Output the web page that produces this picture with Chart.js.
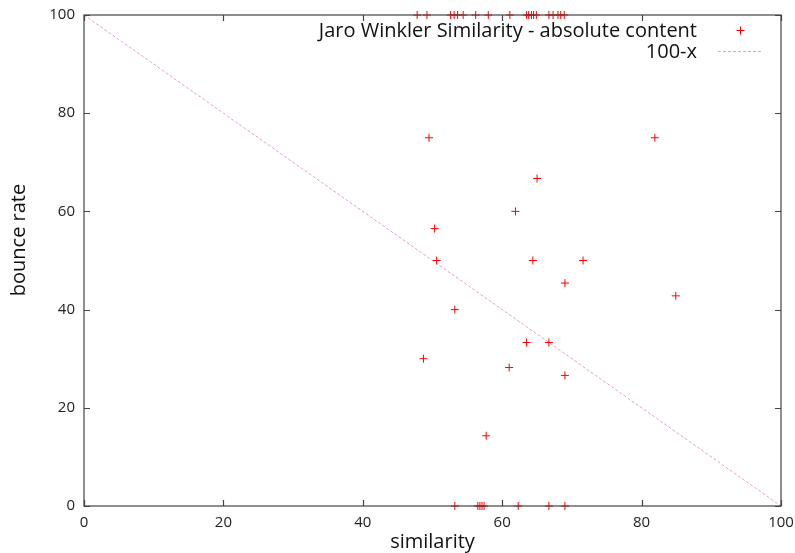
<!DOCTYPE html>
<html>
<head>
<meta charset="utf-8">
<script src="https://cdn.jsdelivr.net/npm/chart.js"></script>
<style>
  html, body { margin: 0; padding: 0; background: #fff; }
  #wrap { width: 795px; height: 553px; }
</style>
</head>
<body>
<div id="wrap"><canvas id="chart" width="795" height="553"></canvas></div>
<script>
    // valeurs
    var simX = [49.5, 65.0, 61.9, 50.3, 50.6, 64.4, 71.6, 69.0, 53.2, 63.5, 66.7, 48.7, 61.0, 69.0, 57.7, 81.9, 84.9,
                47.8, 49.2, 52.6, 53.1, 53.6, 54.4, 56.2, 58.0, 61.1, 63.5, 63.8, 64.2, 64.5, 64.9, 66.7, 67.3, 68.0, 68.4, 68.9,
                53.2, 56.5, 56.8, 57.1, 57.4, 62.3, 66.7, 69.0];
    var bounceY = [75, 66.7, 60, 56.5, 50, 50, 50, 45.4, 40, 33.3, 33.3, 30, 28.2, 26.6, 14.3, 75, 42.8,
                   100, 100, 100, 100, 100, 100, 100, 100, 100, 100, 100, 100, 100, 100, 100, 100, 100, 100, 100,
                   0, 0, 0, 0, 0, 0, 0, 0];
    var refX = [0, 100];
    var refY = [100, 0];
    var tickValues = [0, 20, 40, 60, 80, 100];
    var seriesLabels = ['Jaro Winkler Similarity - absolute content', '100-x'];

    document.addEventListener("DOMContentLoaded", function() {
        var FONT = "'Open Sans', sans-serif";
        var pointColor = '#ff0000';
        var lineColor = 'rgba(222,150,210,0.9)';

        // cadre, petites graduations vers l'interieur, titres et legende
        var gnuplotLook = {
            id: 'gnuplotLook',
            afterDraw: function(chart) {
                var ctx = chart.ctx, a = chart.chartArea;
                var sx = chart.scales.x, sy = chart.scales.y;
                ctx.save();
                ctx.strokeStyle = '#444';
                ctx.lineWidth = 1.2;
                ctx.strokeRect(a.left, a.top, a.right - a.left, a.bottom - a.top);
                ctx.beginPath();
                tickValues.forEach(function(v) {
                    var px = Math.round(sx.getPixelForValue(v)) + 0.5;
                    ctx.moveTo(px, a.bottom); ctx.lineTo(px, a.bottom - 6);
                    ctx.moveTo(px, a.top); ctx.lineTo(px, a.top + 6);
                    var py = Math.round(sy.getPixelForValue(v)) + 0.5;
                    ctx.moveTo(a.left, py); ctx.lineTo(a.left + 6, py);
                    ctx.moveTo(a.right, py); ctx.lineTo(a.right - 6, py);
                });
                ctx.stroke();

                // titres des axes
                ctx.fillStyle = '#111';
                ctx.font = '20px ' + FONT;
                ctx.textAlign = 'center';
                ctx.textBaseline = 'middle';
                ctx.fillText('similarity', (a.left + a.right) / 2, 542);
                ctx.save();
                ctx.translate(19, 240);
                ctx.rotate(-Math.PI / 2);
                ctx.fillText('bounce rate', 0, 0);
                ctx.restore();

                // legende
                ctx.font = '20px ' + FONT;
                ctx.textAlign = 'right';
                ctx.fillText(seriesLabels[0], 697, 31);
                ctx.fillText(seriesLabels[1], 697, 52);
                ctx.strokeStyle = pointColor;
                ctx.lineWidth = 1;
                ctx.beginPath();
                ctx.moveTo(736.5, 30.5); ctx.lineTo(744.5, 30.5);
                ctx.moveTo(740.5, 26.5); ctx.lineTo(740.5, 34.5);
                ctx.stroke();
                ctx.strokeStyle = lineColor;
                ctx.setLineDash([3, 2]);
                ctx.beginPath();
                ctx.moveTo(718, 51.5); ctx.lineTo(763, 51.5);
                ctx.stroke();
                ctx.restore();
            }
        };

        var ctx = document.getElementById('chart').getContext('2d');
        var chart = new Chart(ctx, {
            type: 'scatter',
            data: {
                datasets: [{
                    label: seriesLabels[0],
                    data: simX.map(function(x, i) { return { x: x, y: bounceY[i] }; }),
                    pointStyle: 'cross',
                    pointRadius: 4,
                    pointHoverRadius: 4,
                    borderColor: pointColor,
                    backgroundColor: pointColor,
                    borderWidth: 1,
                    clip: false,
                    order: 1
                }, {
                    label: seriesLabels[1],
                    type: 'line',
                    data: refX.map(function(x, i) { return { x: x, y: refY[i] }; }),
                    borderColor: lineColor,
                    borderWidth: 1,
                    borderDash: [3, 2],
                    pointRadius: 0,
                    fill: false,
                    order: 2
                }]
            },
            options: {
                responsive: false,
                animation: false,
                layout: { padding: { top: 15, right: 14, left: 0, bottom: 0 } },
                plugins: {
                    legend: { display: false },
                    tooltip: { enabled: false }
                },
                scales: {
                    x: {
                        type: 'linear',
                        min: 0, max: 100,
                        afterBuildTicks: function(s) { s.ticks = tickValues.map(function(v) { return { value: v }; }); },
                        afterFit: function(s) { s.height = 47; s.paddingLeft = 0; s.paddingRight = 0; },
                        grid: { display: false, drawTicks: false },
                        border: { display: false },
                        ticks: { color: '#222', font: { family: FONT, size: 15 }, padding: 8, maxRotation: 0 }
                    },
                    y: {
                        type: 'linear',
                        min: 0, max: 100,
                        afterBuildTicks: function(s) { s.ticks = tickValues.map(function(v) { return { value: v }; }); },
                        afterFit: function(s) { s.width = 84; s.paddingTop = 0; s.paddingBottom = 0; },
                        grid: { display: false, drawTicks: false },
                        border: { display: false },
                        ticks: { color: '#222', font: { family: FONT, size: 15 }, padding: 9 }
                    }
                }
            },
            plugins: [gnuplotLook]
        });
    });
</script>
</body>
</html>
